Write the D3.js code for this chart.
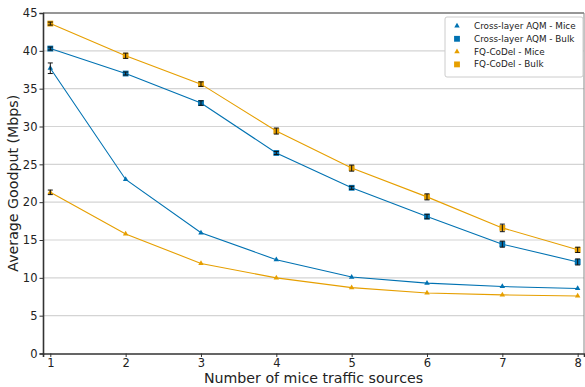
<!DOCTYPE html>
<html>
<head>
<meta charset="utf-8">
<script src="https://cdn.jsdelivr.net/npm/d3@7"></script>
<style>
  body { margin: 0; background: #fff; }
  svg { font-family: "DejaVu Sans", sans-serif; }
</style>
</head>
<body>
<svg id="chart" width="585" height="387"></svg>
<script>
// data
var sources = [1, 2, 3, 4, 5, 6, 7, 8];
var yTicks = [0, 5, 10, 15, 20, 25, 30, 35, 40, 45];

var crossMice = [37.7, 23.0, 15.95, 12.4, 10.1, 9.3, 8.85, 8.6];
var crossMiceErr = [0.7, 0.1, 0.1, 0.1, 0.1, 0.1, 0.1, 0.1];
var crossBulk = [40.3, 37.0, 33.1, 26.5, 21.9, 18.1, 14.45, 12.1];
var crossBulkErr = [0.2, 0.2, 0.3, 0.2, 0.2, 0.3, 0.4, 0.4];
var fqMice = [21.3, 15.8, 11.9, 10.0, 8.7, 8.0, 7.75, 7.6];
var fqMiceErr = [0.3, 0.1, 0.1, 0.1, 0.1, 0.1, 0.1, 0.1];
var fqBulk = [43.6, 39.35, 35.6, 29.4, 24.5, 20.7, 16.6, 13.7];
var fqBulkErr = [0.2, 0.35, 0.3, 0.4, 0.4, 0.4, 0.5, 0.35];

var series = [
  {name: "Cross-layer AQM - Mice", values: crossMice, err: crossMiceErr, colour: "#0072b2", shape: "tri"},
  {name: "Cross-layer AQM - Bulk", values: crossBulk, err: crossBulkErr, colour: "#0072b2", shape: "sq"},
  {name: "FQ-CoDel - Mice", values: fqMice, err: fqMiceErr, colour: "#e69f00", shape: "tri"},
  {name: "FQ-CoDel - Bulk", values: fqBulk, err: fqBulkErr, colour: "#e69f00", shape: "sq"}
];

var svg = d3.select("#chart"),
    margin = {top: 13, right: 1, bottom: 33.5, left: 43},
    width = +svg.attr("width") - margin.left - margin.right,
    height = +svg.attr("height") - margin.top - margin.bottom,
    g = svg.append("g").attr("transform", "translate(" + margin.left + "," + margin.top + ")");

var x = d3.scaleLinear().domain([0.903, 8.084]).range([0, width]);
var y = d3.scaleLinear().domain([0, 45]).range([height, 0]);

// horizontal grid
g.append("g")
  .selectAll("line")
  .data(yTicks.slice(1))
  .enter().append("line")
    .attr("x1", 0).attr("x2", width)
    .attr("y1", function(d){ return y(d); })
    .attr("y2", function(d){ return y(d); })
    .attr("stroke", "#d4d4d4")
    .attr("stroke-width", 1.2);

// top/right frame
g.append("line").attr("x1", 0).attr("x2", width).attr("y1", 0).attr("y2", 0)
  .attr("stroke", "#444").attr("stroke-width", 1);
g.append("line").attr("x1", width).attr("x2", width).attr("y1", 0).attr("y2", height)
  .attr("stroke", "#888").attr("stroke-width", 1);

var xAxis = g.append("g")
  .attr("transform", "translate(0," + height + ")")
  .call(d3.axisBottom(x).tickValues(sources).tickSize(3.5).tickPadding(2).tickFormat(d3.format("d")));
var yAxis = g.append("g")
  .call(d3.axisLeft(y).tickValues(yTicks).tickSize(3.5).tickPadding(2));

[xAxis, yAxis].forEach(function(a){
  a.select(".domain").attr("stroke", "#333").attr("stroke-width", 1.6);
  a.selectAll(".tick line").attr("stroke", "#333").attr("stroke-width", 1);
  a.selectAll("text").attr("font-size", "11.5px").attr("fill", "#222")
    .attr("font-family", "DejaVu Sans, sans-serif");
});

var line = d3.line()
  .x(function(d, i){ return x(sources[i]); })
  .y(function(d){ return y(d); });

var tri = d3.symbol().type(d3.symbolTriangle).size(13);
var sq = d3.symbol().type(d3.symbolSquare).size(34);

series.forEach(function(s){
  g.append("path")
    .datum(s.values)
    .attr("fill", "none")
    .attr("stroke", s.colour)
    .attr("stroke-width", 1.1)
    .attr("d", line);

  var pts = g.append("g").selectAll("g")
    .data(s.values)
    .enter().append("g")
      .attr("transform", function(d, i){ return "translate(" + x(sources[i]) + "," + y(d) + ")"; });

  pts.append("path")
    .attr("d", s.shape == "tri" ? tri : sq)
    .attr("fill", s.colour);

  // error bars
  pts.each(function(d, i){
    var e = s.err[i];
    var h = y(0) - y(e);
    if (h < 1.2) return;
    var eg = d3.select(this);
    eg.append("line").attr("x1", 0).attr("x2", 0).attr("y1", -h).attr("y2", h)
      .attr("stroke", "#111").attr("stroke-width", 1);
    eg.append("line").attr("x1", -2.5).attr("x2", 2.5).attr("y1", -h).attr("y2", -h)
      .attr("stroke", "#111").attr("stroke-width", 1);
    eg.append("line").attr("x1", -2.5).attr("x2", 2.5).attr("y1", h).attr("y2", h)
      .attr("stroke", "#111").attr("stroke-width", 1);
  });
});

// axis labels
svg.append("text")
  .attr("x", margin.left + width / 2)
  .attr("y", 383)
  .attr("text-anchor", "middle")
  .attr("font-size", "14.2px")
  .attr("fill", "#222")
  .text("Number of mice traffic sources");

svg.append("text")
  .attr("transform", "translate(18," + (margin.top + height / 2) + ") rotate(-90)")
  .attr("text-anchor", "middle")
  .attr("font-size", "14.2px")
  .attr("fill", "#222")
  .text("Average Goodput (Mbps)");

// legend
var legend = svg.append("g").attr("transform", "translate(445,17)");
legend.append("rect")
  .attr("width", 138).attr("height", 60)
  .attr("rx", 2)
  .attr("fill", "#fff")
  .attr("stroke", "#ccc")
  .attr("stroke-width", 1);

var rows = legend.selectAll("g.row")
  .data(series)
  .enter().append("g")
    .attr("class", "row")
    .attr("transform", function(d, i){ return "translate(12," + (9 + i * 12.8) + ")"; });

rows.append("path")
  .attr("d", function(d){ return d.shape == "tri" ? tri() : sq(); })
  .attr("fill", function(d){ return d.colour; });

rows.append("text")
  .attr("x", 17)
  .attr("dy", "0.35em")
  .attr("font-size", "8.8px")
  .attr("fill", "#222")
  .text(function(d){ return d.name; });
</script>
</body>
</html>
